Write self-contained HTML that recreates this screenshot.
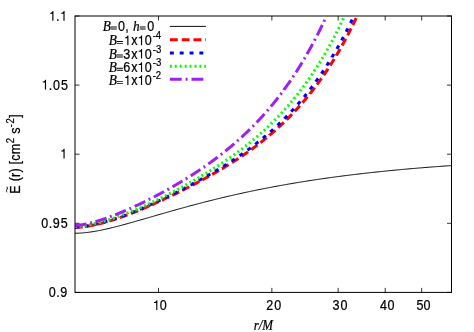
<!DOCTYPE html>
<html><head><meta charset="utf-8"><title>plot</title>
<style>html,body{margin:0;padding:0;background:#fff;}body{width:474px;height:332px;position:relative;overflow:hidden;}</style></head>
<body>
<svg width="474" height="332" viewBox="0 0 474 332" style="position:absolute;left:0;top:0">
<defs><clipPath id="c"><rect x="75.00" y="16.00" width="376.50" height="276.40"/></clipPath></defs>
<rect width="474" height="332" fill="#fff"/>
<g clip-path="url(#c)" fill="none">
<path d="M75.00,233.24 L75.94,233.23 L76.89,233.22 L77.83,233.19 L78.77,233.15 L79.72,233.11 L80.66,233.06 L81.61,232.99 L82.55,232.92 L83.49,232.84 L84.44,232.75 L85.38,232.66 L86.32,232.55 L87.27,232.44 L88.21,232.33 L89.15,232.20 L90.10,232.07 L91.04,231.94 L91.98,231.80 L92.93,231.65 L93.87,231.49 L94.82,231.34 L95.76,231.17 L96.70,231.00 L97.65,230.83 L98.59,230.65 L99.53,230.47 L100.48,230.28 L101.42,230.09 L102.36,229.89 L103.31,229.69 L104.25,229.49 L105.20,229.28 L106.14,229.07 L107.08,228.86 L108.03,228.64 L108.97,228.42 L109.91,228.20 L110.86,227.97 L111.80,227.74 L112.74,227.51 L113.69,227.28 L114.63,227.04 L115.58,226.81 L116.52,226.57 L117.46,226.32 L118.41,226.08 L119.35,225.83 L120.29,225.58 L121.24,225.33 L122.18,225.08 L123.12,224.83 L124.07,224.57 L125.01,224.32 L125.95,224.06 L126.90,223.80 L127.84,223.54 L128.79,223.28 L129.73,223.02 L130.67,222.75 L131.62,222.49 L132.56,222.23 L133.50,221.96 L134.45,221.69 L135.39,221.42 L136.33,221.16 L137.28,220.89 L138.22,220.62 L139.17,220.35 L140.11,220.08 L141.05,219.81 L142.00,219.53 L142.94,219.26 L143.88,218.99 L144.83,218.72 L145.77,218.45 L146.71,218.17 L147.66,217.90 L148.60,217.63 L149.55,217.35 L150.49,217.08 L151.43,216.81 L152.38,216.53 L153.32,216.26 L154.26,215.99 L155.21,215.71 L156.15,215.44 L157.09,215.17 L158.04,214.90 L158.98,214.62 L159.92,214.35 L160.87,214.08 L161.81,213.81 L162.76,213.54 L163.70,213.27 L164.64,213.00 L165.59,212.73 L166.53,212.46 L167.47,212.19 L168.42,211.92 L169.36,211.65 L170.30,211.38 L171.25,211.11 L172.19,210.85 L173.14,210.58 L174.08,210.31 L175.02,210.05 L175.97,209.78 L176.91,209.52 L177.85,209.26 L178.80,208.99 L179.74,208.73 L180.68,208.47 L181.63,208.21 L182.57,207.95 L183.52,207.69 L184.46,207.43 L185.40,207.17 L186.35,206.91 L187.29,206.65 L188.23,206.40 L189.18,206.14 L190.12,205.89 L191.06,205.63 L192.01,205.38 L192.95,205.13 L193.89,204.88 L194.84,204.63 L195.78,204.38 L196.73,204.13 L197.67,203.88 L198.61,203.63 L199.56,203.38 L200.50,203.14 L201.44,202.89 L202.39,202.65 L203.33,202.40 L204.27,202.16 L205.22,201.92 L206.16,201.68 L207.11,201.44 L208.05,201.20 L208.99,200.96 L209.94,200.72 L210.88,200.49 L211.82,200.25 L212.77,200.02 L213.71,199.78 L214.65,199.55 L215.60,199.32 L216.54,199.09 L217.48,198.85 L218.43,198.63 L219.37,198.40 L220.32,198.17 L221.26,197.94 L222.20,197.72 L223.15,197.49 L224.09,197.27 L225.03,197.04 L225.98,196.82 L226.92,196.60 L227.86,196.38 L228.81,196.16 L229.75,195.94 L230.70,195.72 L231.64,195.51 L232.58,195.29 L233.53,195.08 L234.47,194.86 L235.41,194.65 L236.36,194.44 L237.30,194.23 L238.24,194.02 L239.19,193.81 L240.13,193.60 L241.08,193.39 L242.02,193.18 L242.96,192.98 L243.91,192.77 L244.85,192.57 L245.79,192.37 L246.74,192.16 L247.68,191.96 L248.62,191.76 L249.57,191.56 L250.51,191.36 L251.45,191.17 L252.40,190.97 L253.34,190.77 L254.29,190.58 L255.23,190.38 L256.17,190.19 L257.12,190.00 L258.06,189.81 L259.00,189.62 L259.95,189.43 L260.89,189.24 L261.83,189.05 L262.78,188.86 L263.72,188.68 L264.67,188.49 L265.61,188.31 L266.55,188.13 L267.50,187.94 L268.44,187.76 L269.38,187.58 L270.33,187.40 L271.27,187.22 L272.21,187.04 L273.16,186.87 L274.10,186.69 L275.05,186.51 L275.99,186.34 L276.93,186.17 L277.88,185.99 L278.82,185.82 L279.76,185.65 L280.71,185.48 L281.65,185.31 L282.59,185.14 L283.54,184.97 L284.48,184.80 L285.42,184.64 L286.37,184.47 L287.31,184.31 L288.26,184.14 L289.20,183.98 L290.14,183.82 L291.09,183.66 L292.03,183.50 L292.97,183.34 L293.92,183.18 L294.86,183.02 L295.80,182.86 L296.75,182.70 L297.69,182.55 L298.64,182.39 L299.58,182.24 L300.52,182.08 L301.47,181.93 L302.41,181.78 L303.35,181.63 L304.30,181.48 L305.24,181.33 L306.18,181.18 L307.13,181.03 L308.07,180.88 L309.02,180.74 L309.96,180.59 L310.90,180.45 L311.85,180.30 L312.79,180.16 L313.73,180.01 L314.68,179.87 L315.62,179.73 L316.56,179.59 L317.51,179.45 L318.45,179.31 L319.39,179.17 L320.34,179.03 L321.28,178.90 L322.23,178.76 L323.17,178.63 L324.11,178.49 L325.06,178.36 L326.00,178.22 L326.94,178.09 L327.89,177.96 L328.83,177.83 L329.77,177.69 L330.72,177.56 L331.66,177.43 L332.61,177.31 L333.55,177.18 L334.49,177.05 L335.44,176.92 L336.38,176.80 L337.32,176.67 L338.27,176.55 L339.21,176.42 L340.15,176.30 L341.10,176.18 L342.04,176.05 L342.98,175.93 L343.93,175.81 L344.87,175.69 L345.82,175.57 L346.76,175.45 L347.70,175.34 L348.65,175.22 L349.59,175.10 L350.53,174.98 L351.48,174.87 L352.42,174.75 L353.36,174.64 L354.31,174.52 L355.25,174.41 L356.20,174.30 L357.14,174.19 L358.08,174.07 L359.03,173.96 L359.97,173.85 L360.91,173.74 L361.86,173.63 L362.80,173.53 L363.74,173.42 L364.69,173.31 L365.63,173.20 L366.58,173.10 L367.52,172.99 L368.46,172.89 L369.41,172.78 L370.35,172.68 L371.29,172.57 L372.24,172.47 L373.18,172.37 L374.12,172.27 L375.07,172.17 L376.01,172.06 L376.95,171.96 L377.90,171.86 L378.84,171.77 L379.79,171.67 L380.73,171.57 L381.67,171.47 L382.62,171.37 L383.56,171.28 L384.50,171.18 L385.45,171.09 L386.39,170.99 L387.33,170.90 L388.28,170.80 L389.22,170.71 L390.17,170.62 L391.11,170.53 L392.05,170.43 L393.00,170.34 L393.94,170.25 L394.88,170.16 L395.83,170.07 L396.77,169.98 L397.71,169.89 L398.66,169.80 L399.60,169.72 L400.55,169.63 L401.49,169.54 L402.43,169.46 L403.38,169.37 L404.32,169.28 L405.26,169.20 L406.21,169.12 L407.15,169.03 L408.09,168.95 L409.04,168.86 L409.98,168.78 L410.92,168.70 L411.87,168.62 L412.81,168.54 L413.76,168.46 L414.70,168.38 L415.64,168.30 L416.59,168.22 L417.53,168.14 L418.47,168.06 L419.42,167.98 L420.36,167.90 L421.30,167.82 L422.25,167.75 L423.19,167.67 L424.14,167.59 L425.08,167.52 L426.02,167.44 L426.97,167.37 L427.91,167.29 L428.85,167.22 L429.80,167.15 L430.74,167.07 L431.68,167.00 L432.63,166.93 L433.57,166.86 L434.52,166.78 L435.46,166.71 L436.40,166.64 L437.35,166.57 L438.29,166.50 L439.23,166.43 L440.18,166.36 L441.12,166.29 L442.06,166.23 L443.01,166.16 L443.95,166.09 L444.89,166.02 L445.84,165.96 L446.78,165.89 L447.73,165.82 L448.67,165.76 L449.61,165.69 L450.56,165.63 L451.50,165.56" stroke="#000" stroke-width="1"/>
<path d="M75.00,227.45 L75.06,227.45 L75.56,227.43 L76.07,227.41 L76.57,227.39 L77.07,227.36 L77.57,227.33 L78.08,227.30 L78.58,227.27 L79.08,227.23 L79.58,227.19 L80.08,227.15 L80.59,227.10 L81.09,227.05 L81.59,227.00 L82.09,226.95 L82.59,226.89 L82.72,226.87 M86.55,226.36 L86.61,226.35 L87.11,226.27 L87.61,226.19 L88.12,226.11 L88.62,226.02 L89.12,225.94 L89.62,225.85 L90.13,225.76 L90.63,225.67 L91.13,225.57 L91.63,225.48 L92.13,225.38 L92.64,225.28 L93.14,225.18 L93.64,225.07 L94.14,224.97 L94.16,224.96 M97.94,224.12 L97.97,224.11 L98.47,223.99 L98.97,223.87 L99.48,223.75 L99.98,223.62 L100.48,223.49 L100.98,223.36 L101.48,223.23 L101.99,223.10 L102.49,222.96 L102.99,222.83 L103.49,222.69 L104.00,222.55 L104.50,222.41 L105.00,222.27 L105.42,222.15 M109.14,221.06 L109.14,221.06 L109.64,220.91 L110.15,220.75 L110.65,220.60 L111.15,220.44 L111.65,220.29 L112.15,220.13 L112.66,219.97 L113.16,219.81 L113.66,219.65 L114.16,219.49 L114.66,219.33 L115.17,219.17 L115.67,219.00 L116.17,218.84 L116.52,218.72 M120.18,217.49 L120.19,217.49 L120.69,217.31 L121.19,217.14 L121.69,216.97 L122.20,216.79 L122.70,216.62 L123.20,216.44 L123.70,216.26 L124.20,216.08 L124.71,215.91 L125.21,215.72 L125.71,215.53 L126.21,215.35 L126.71,215.16 L127.22,214.97 L127.47,214.87 M131.03,213.50 L131.05,213.49 L131.55,213.30 L132.05,213.10 L132.55,212.90 L133.05,212.71 L133.56,212.51 L134.06,212.31 L134.56,212.11 L135.06,211.91 L135.56,211.71 L136.07,211.51 L136.57,211.31 L137.07,211.10 L137.57,210.90 L138.07,210.70 L138.22,210.64 M141.47,209.29 L141.53,209.26 L142.03,209.05 L142.53,208.84 L143.03,208.62 L143.53,208.40 L144.04,208.19 L144.54,207.97 L145.04,207.75 L145.54,207.54 L146.04,207.32 L146.55,207.10 L147.05,206.88 L147.55,206.66 L148.05,206.44 L148.56,206.22 L148.57,206.21 M151.79,204.79 L151.82,204.77 L152.32,204.55 L152.82,204.32 L153.33,204.10 L153.83,203.87 L154.33,203.65 L154.83,203.42 L155.33,203.19 L155.84,202.97 L156.34,202.74 L156.84,202.51 L157.34,202.28 L157.84,202.05 L158.35,201.82 L158.84,201.60 M162.04,200.12 L162.05,200.12 L162.55,199.88 L163.05,199.65 L163.56,199.42 L164.06,199.18 L164.56,198.95 L165.06,198.71 L165.56,198.48 L166.07,198.24 L166.57,198.00 L167.07,197.76 L167.57,197.53 L168.07,197.29 L168.58,197.05 L169.05,196.83 M172.22,195.30 L172.28,195.27 L172.78,195.03 L173.28,194.79 L173.78,194.55 L174.29,194.30 L174.79,194.06 L175.29,193.81 L175.79,193.57 L176.30,193.32 L176.80,193.07 L177.30,192.83 L177.80,192.58 L178.30,192.33 L178.81,192.08 L179.17,191.90 M182.32,190.33 L182.38,190.30 L182.89,190.05 L183.39,189.79 L183.89,189.54 L184.39,189.29 L184.89,189.03 L185.40,188.78 L185.90,188.52 L186.40,188.26 L186.90,188.01 L187.40,187.75 L187.91,187.49 L188.41,187.24 L188.91,186.98 L189.22,186.82 M192.35,185.19 L192.36,185.18 L192.86,184.92 L193.37,184.66 L193.87,184.39 L194.37,184.13 L194.87,183.86 L195.37,183.60 L195.88,183.33 L196.38,183.06 L196.88,182.80 L197.38,182.53 L197.88,182.26 L198.39,181.99 L198.89,181.72 L199.18,181.56 M202.28,179.88 L202.28,179.88 L202.78,179.61 L203.28,179.33 L203.78,179.05 L204.29,178.78 L204.79,178.50 L205.29,178.22 L205.79,177.95 L206.29,177.67 L206.80,177.40 L207.30,177.12 L207.80,176.85 L208.30,176.57 L208.81,176.29 L209.06,176.15 M212.13,174.43 L212.13,174.43 L212.63,174.15 L213.14,173.86 L213.64,173.58 L214.14,173.29 L214.64,173.01 L215.14,172.72 L215.65,172.43 L216.15,172.14 L216.65,171.85 L217.15,171.56 L217.65,171.27 L218.16,170.97 L218.66,170.68 L218.84,170.57 M222.04,168.68 L222.05,168.68 L222.55,168.38 L223.05,168.08 L223.55,167.78 L224.06,167.47 L224.56,167.17 L225.06,166.87 L225.56,166.56 L226.06,166.25 L226.57,165.95 L227.07,165.64 L227.57,165.33 L228.07,165.02 L228.57,164.71 L228.65,164.66 M231.93,162.61 L231.96,162.59 L232.47,162.27 L232.97,161.95 L233.47,161.63 L233.97,161.31 L234.47,160.99 L234.98,160.67 L235.48,160.34 L235.98,160.02 L236.48,159.69 L236.98,159.37 L237.49,159.04 L237.99,158.71 L238.44,158.41 M241.66,156.27 L241.69,156.24 L242.19,155.91 L242.70,155.56 L243.20,155.22 L243.70,154.88 L244.20,154.54 L244.70,154.19 L245.21,153.84 L245.71,153.50 L246.21,153.15 L246.71,152.80 L247.21,152.44 L247.72,152.09 L248.03,151.87 M251.18,149.62 L251.23,149.58 L251.73,149.22 L252.24,148.85 L252.74,148.48 L253.24,148.11 L253.74,147.74 L254.24,147.37 L254.75,147.00 L255.25,146.62 L255.75,146.25 L256.25,145.87 L256.75,145.49 L257.26,145.11 L257.39,145.01 M260.46,142.65 L260.46,142.65 L260.96,142.25 L261.46,141.86 L261.96,141.47 L262.47,141.07 L262.97,140.67 L263.47,140.27 L263.97,139.87 L264.47,139.46 L264.98,139.06 L265.48,138.65 L265.98,138.24 L266.48,137.83 L266.50,137.81 M269.48,135.34 L269.49,135.32 L270.00,134.90 L270.50,134.47 L271.00,134.04 L271.50,133.61 L272.01,133.18 L272.51,132.75 L273.01,132.31 L273.51,131.88 L274.01,131.44 L274.52,130.99 L275.02,130.55 L275.33,130.27 M278.21,127.69 L278.22,127.68 L278.72,127.22 L279.22,126.76 L279.72,126.29 L280.23,125.83 L280.73,125.36 L281.23,124.89 L281.73,124.42 L282.24,123.94 L282.74,123.47 L283.24,122.99 L283.74,122.51 L283.86,122.40 M286.63,119.70 L286.69,119.63 L287.19,119.14 L287.70,118.64 L288.20,118.13 L288.70,117.63 L289.20,117.12 L289.70,116.61 L290.21,116.10 L290.71,115.59 L291.21,115.07 L291.71,114.55 L292.06,114.18 M294.73,111.38 L294.79,111.31 L295.29,110.77 L295.79,110.23 L296.29,109.69 L296.80,109.14 L297.30,108.59 L297.80,108.04 L298.30,107.48 L298.80,106.92 L299.31,106.36 L299.81,105.80 L299.94,105.65 M302.49,102.74 L302.51,102.72 L303.01,102.13 L303.51,101.55 L304.01,100.96 L304.52,100.37 L305.02,99.77 L305.52,99.17 L306.02,98.57 L306.52,97.97 L307.03,97.36 L307.47,96.82 M309.91,93.81 L309.91,93.80 L310.41,93.17 L310.92,92.54 L311.42,91.90 L311.92,91.26 L312.42,90.62 L312.92,89.97 L313.43,89.32 L313.93,88.67 L314.43,88.01 L314.66,87.71 M316.98,84.61 L317.00,84.58 L317.51,83.91 L318.01,83.22 L318.51,82.53 L319.01,81.84 L319.51,81.15 L320.02,80.45 L320.52,79.75 L321.02,79.04 L321.52,78.34 M323.73,75.16 L323.78,75.09 L324.28,74.35 L324.79,73.62 L325.29,72.88 L325.79,72.13 L326.29,71.38 L326.79,70.63 L327.30,69.87 L327.80,69.11 L328.04,68.74 M330.15,65.49 L330.18,65.43 L330.69,64.65 L331.19,63.86 L331.69,63.06 L332.19,62.26 L332.69,61.46 L333.20,60.65 L333.70,59.83 L334.20,59.02 L334.25,58.93 M336.26,55.62 L336.27,55.59 L336.77,54.75 L337.28,53.90 L337.78,53.05 L338.28,52.19 L338.78,51.33 L339.28,50.46 L339.79,49.59 L340.16,48.93 M342.07,45.56 L342.11,45.49 L342.61,44.58 L343.11,43.68 L343.61,42.77 L344.12,41.85 L344.62,40.93 L345.12,40.00 L345.62,39.07 L345.78,38.77 M347.59,35.35 L347.63,35.28 L348.13,34.32 L348.64,33.35 L349.14,32.38 L349.64,31.40 L350.14,30.42 L350.64,29.43 L351.13,28.47 M352.85,25.00 L352.90,24.90 L353.41,23.88 L353.91,22.85 L354.41,21.82 L354.91,20.78 L355.41,19.73 L355.92,18.68 L356.22,18.04" stroke="#ff0000" stroke-width="3"/>
<path d="M75.00,227.15 L75.06,227.15 L75.56,227.13 L76.07,227.11 L76.57,227.08 L77.07,227.06 L77.57,227.03 L78.08,226.99 L78.58,226.95 L78.88,226.93 M84.68,226.29 L84.73,226.28 L85.23,226.21 L85.73,226.14 L86.23,226.06 L86.74,225.98 L87.24,225.90 L87.74,225.82 L88.24,225.74 L88.52,225.69 M94.24,224.57 L94.27,224.57 L94.77,224.46 L95.27,224.34 L95.77,224.23 L96.28,224.12 L96.78,224.00 L97.28,223.88 L97.78,223.76 L98.03,223.70 M103.67,222.22 L103.68,222.22 L104.18,222.08 L104.69,221.94 L105.19,221.79 L105.69,221.65 L106.19,221.50 L106.69,221.35 L107.20,221.20 L107.41,221.14 M112.97,219.41 L113.03,219.39 L113.53,219.23 L114.04,219.06 L114.54,218.90 L115.04,218.73 L115.54,218.56 L116.05,218.40 L116.55,218.23 L116.67,218.19 M122.18,216.28 L122.20,216.27 L122.70,216.10 L123.20,215.92 L123.70,215.74 L124.20,215.56 L124.71,215.37 L125.21,215.19 L125.71,215.00 L125.83,214.95 M131.26,212.84 L131.30,212.82 L131.80,212.62 L132.30,212.42 L132.80,212.22 L133.30,212.02 L133.81,211.82 L134.31,211.62 L134.81,211.41 L134.86,211.39 M139.93,209.31 L139.96,209.30 L140.46,209.08 L140.96,208.86 L141.46,208.65 L141.97,208.43 L142.47,208.21 L142.97,207.99 L143.47,207.77 L143.49,207.76 M148.50,205.55 L148.56,205.52 L149.06,205.29 L149.56,205.07 L150.06,204.84 L150.56,204.62 L151.07,204.39 L151.57,204.16 L152.04,203.95 M157.01,201.66 L157.03,201.66 L157.53,201.42 L158.03,201.19 L158.53,200.95 L159.04,200.72 L159.54,200.48 L160.04,200.25 L160.54,200.02 M165.48,197.67 L165.50,197.66 L166.00,197.42 L166.50,197.17 L167.01,196.93 L167.51,196.69 L168.01,196.45 L168.51,196.20 L168.98,195.98 M173.89,193.56 L173.91,193.55 L174.41,193.30 L174.91,193.05 L175.42,192.80 L175.92,192.55 L176.42,192.30 L176.92,192.05 L177.37,191.82 M182.25,189.34 L182.26,189.34 L182.76,189.08 L183.26,188.82 L183.76,188.56 L184.27,188.30 L184.77,188.04 L185.27,187.78 L185.70,187.56 M190.54,185.01 L190.54,185.01 L191.04,184.74 L191.55,184.47 L192.05,184.20 L192.55,183.93 L193.05,183.66 L193.55,183.39 L193.97,183.17 M198.77,180.55 L198.83,180.52 L199.33,180.24 L199.83,179.96 L200.33,179.68 L200.83,179.40 L201.34,179.12 L201.84,178.84 L202.17,178.66 M206.94,175.97 L206.99,175.94 L207.49,175.66 L207.99,175.37 L208.49,175.09 L208.99,174.80 L209.50,174.51 L210.00,174.23 L210.31,174.05 M215.04,171.29 L215.08,171.27 L215.58,170.97 L216.09,170.67 L216.59,170.38 L217.09,170.08 L217.59,169.78 L218.09,169.48 L218.38,169.30 M223.28,166.31 L223.30,166.30 L223.81,165.99 L224.31,165.68 L224.81,165.36 L225.31,165.05 L225.81,164.73 L226.32,164.42 L226.58,164.25 M231.49,161.10 L231.52,161.08 L232.03,160.75 L232.53,160.42 L233.03,160.10 L233.53,159.77 L234.04,159.44 L234.54,159.10 L234.74,158.97 M239.57,155.71 L239.62,155.68 L240.12,155.33 L240.62,154.99 L241.13,154.64 L241.63,154.29 L242.13,153.94 L242.63,153.59 L242.77,153.49 M247.51,150.10 L247.53,150.09 L248.03,149.72 L248.53,149.36 L249.03,148.99 L249.54,148.62 L250.04,148.24 L250.54,147.87 L250.64,147.80 M255.29,144.27 L255.31,144.25 L255.81,143.86 L256.31,143.47 L256.82,143.08 L257.32,142.68 L257.82,142.29 L258.32,141.89 L258.35,141.87 M262.88,138.20 L262.90,138.19 L263.41,137.77 L263.91,137.35 L264.41,136.94 L264.91,136.52 L265.42,136.09 L265.87,135.71 M270.28,131.91 L270.31,131.88 L270.81,131.44 L271.31,130.99 L271.82,130.55 L272.32,130.10 L272.82,129.65 L273.19,129.32 M277.48,125.37 L277.53,125.32 L278.03,124.85 L278.53,124.38 L279.03,123.90 L279.54,123.42 L280.04,122.94 L280.30,122.69 M284.46,118.60 L284.49,118.56 L285.00,118.06 L285.50,117.55 L286.00,117.04 L286.50,116.53 L287.00,116.02 L287.18,115.83 M291.21,111.61 L291.21,111.61 L291.71,111.07 L292.21,110.52 L292.72,109.98 L293.22,109.43 L293.72,108.88 L293.84,108.75 M297.72,104.40 L297.74,104.38 L298.24,103.81 L298.74,103.23 L299.24,102.65 L299.75,102.06 L300.25,101.48 L300.26,101.46 M304.00,96.98 L304.01,96.97 L304.52,96.36 L305.02,95.74 L305.52,95.12 L306.02,94.50 L306.45,93.96 M310.05,89.37 L310.10,89.30 L310.60,88.65 L311.10,87.99 L311.61,87.33 L312.11,86.66 L312.40,86.28 M315.86,81.58 L315.87,81.56 L316.38,80.86 L316.88,80.16 L317.38,79.46 L317.88,78.75 L318.12,78.42 M321.44,73.62 L321.46,73.59 L321.96,72.85 L322.46,72.11 L322.97,71.36 L323.47,70.61 L323.61,70.39 M326.80,65.51 L326.86,65.42 L327.36,64.63 L327.86,63.84 L328.36,63.04 L328.87,62.25 L328.88,62.23 M331.94,57.26 L331.94,57.25 L332.44,56.42 L332.95,55.58 L333.45,54.74 L333.93,53.92 M336.87,48.88 L336.90,48.82 L337.40,47.94 L337.90,47.06 L338.41,46.17 L338.78,45.50 M341.60,40.39 L341.61,40.37 L342.11,39.44 L342.61,38.51 L343.11,37.57 L343.43,36.97 M346.13,31.80 L346.19,31.69 L346.69,30.71 L347.19,29.73 L347.69,28.74 L347.90,28.33 M350.49,23.11 L350.52,23.06 L351.02,22.03 L351.52,20.99 L352.02,19.95 L352.19,19.61" stroke="#0000ff" stroke-width="3"/>
<path d="M75.00,226.53 L75.06,226.53 L75.56,226.51 L76.07,226.48 L76.57,226.45 L76.95,226.43 M79.86,226.19 L79.90,226.19 L80.40,226.14 L80.90,226.08 L81.40,226.03 L81.80,225.98 M84.70,225.59 L84.73,225.59 L85.23,225.51 L85.73,225.43 L86.23,225.35 L86.63,225.29 M89.51,224.77 L89.56,224.76 L90.06,224.67 L90.56,224.57 L91.07,224.47 L91.42,224.39 M94.28,223.78 L94.33,223.76 L94.83,223.65 L95.33,223.53 L95.84,223.41 L96.18,223.33 M99.02,222.63 L99.04,222.62 L99.54,222.49 L100.04,222.36 L100.54,222.22 L100.90,222.12 M103.72,221.32 L103.74,221.32 L104.25,221.17 L104.75,221.02 L105.25,220.87 L105.59,220.77 M108.38,219.90 L108.39,219.90 L108.89,219.74 L109.39,219.58 L109.89,219.42 L110.24,219.31 M113.02,218.39 L113.03,218.39 L113.53,218.22 L114.04,218.05 L114.54,217.88 L114.87,217.77 M117.63,216.81 L117.68,216.79 L118.18,216.61 L118.68,216.43 L119.18,216.25 L119.47,216.15 M122.21,215.15 L122.26,215.13 L122.76,214.94 L123.26,214.76 L123.76,214.57 L124.04,214.47 M126.77,213.40 L126.78,213.40 L127.28,213.20 L127.78,213.00 L128.28,212.79 L128.58,212.68 M131.28,211.57 L131.30,211.56 L131.80,211.36 L132.30,211.15 L132.80,210.94 L133.09,210.82 M135.59,209.77 L135.63,209.75 L136.13,209.54 L136.63,209.33 L137.13,209.11 L137.38,209.00 M139.85,207.94 L139.89,207.92 L140.40,207.70 L140.90,207.47 L141.40,207.24 L141.63,207.14 M144.08,206.03 L144.10,206.02 L144.60,205.79 L145.10,205.56 L145.61,205.33 L145.85,205.21 M148.29,204.08 L148.30,204.07 L148.81,203.84 L149.31,203.60 L149.81,203.37 L150.05,203.25 M152.48,202.10 L152.51,202.09 L153.01,201.85 L153.51,201.61 L154.02,201.37 L154.24,201.26 M156.66,200.09 L156.71,200.07 L157.22,199.82 L157.72,199.58 L158.22,199.33 L158.41,199.24 M160.83,198.05 L160.86,198.04 L161.36,197.79 L161.86,197.54 L162.36,197.29 L162.57,197.19 M164.98,195.98 L165.00,195.97 L165.50,195.72 L166.00,195.46 L166.50,195.21 L166.72,195.10 M169.11,193.88 L169.14,193.87 L169.64,193.61 L170.14,193.35 L170.65,193.09 L170.85,192.99 M173.23,191.75 L173.28,191.72 L173.78,191.46 L174.29,191.20 L174.79,190.93 L174.96,190.84 M177.33,189.59 L177.36,189.57 L177.86,189.30 L178.37,189.04 L178.87,188.77 L179.05,188.67 M181.42,187.39 L181.44,187.38 L181.94,187.11 L182.45,186.84 L182.95,186.56 L183.13,186.46 M185.49,185.17 L185.52,185.15 L186.02,184.87 L186.53,184.59 L187.03,184.32 L187.20,184.22 M189.54,182.91 L189.60,182.88 L190.10,182.59 L190.60,182.31 L191.11,182.02 L191.24,181.95 M193.57,180.62 L193.62,180.59 L194.12,180.30 L194.62,180.01 L195.12,179.72 L195.26,179.64 M197.59,178.29 L197.63,178.26 L198.14,177.97 L198.64,177.67 L199.14,177.38 L199.27,177.30 M201.58,175.93 L201.59,175.92 L202.09,175.62 L202.59,175.32 L203.09,175.02 L203.25,174.92 M205.55,173.53 L205.60,173.50 L206.11,173.19 L206.61,172.89 L207.11,172.59 L207.22,172.52 M209.51,171.12 L209.56,171.09 L210.06,170.78 L210.56,170.47 L211.06,170.16 L211.17,170.10 M213.45,168.67 L213.45,168.67 L213.95,168.35 L214.45,168.04 L214.96,167.72 L215.10,167.63 M217.44,166.13 L217.47,166.11 L217.97,165.78 L218.47,165.46 L218.97,165.13 L219.07,165.07 M221.52,163.46 L221.55,163.44 L222.05,163.11 L222.55,162.77 L223.05,162.44 L223.14,162.38 M225.57,160.74 L225.63,160.70 L226.13,160.36 L226.63,160.01 L227.13,159.67 L227.18,159.64 M229.58,157.97 L229.64,157.93 L230.14,157.58 L230.65,157.22 L231.15,156.87 L231.18,156.85 M233.56,155.16 L233.60,155.13 L234.10,154.77 L234.60,154.41 L235.10,154.05 L235.15,154.02 M237.51,152.29 L237.55,152.26 L238.05,151.89 L238.55,151.52 L239.06,151.14 L239.07,151.13 M241.41,149.37 L241.44,149.35 L241.94,148.97 L242.44,148.58 L242.95,148.20 L242.96,148.19 M245.27,146.39 L245.33,146.35 L245.83,145.95 L246.34,145.56 L246.81,145.19 M249.09,143.36 L249.10,143.35 L249.60,142.95 L250.10,142.54 L250.60,142.13 L250.60,142.13 M252.86,140.27 L252.86,140.27 L253.37,139.85 L253.87,139.43 L254.36,139.02 M256.58,137.12 L256.63,137.08 L257.13,136.65 L257.63,136.21 L258.06,135.84 M260.26,133.91 L260.27,133.90 L260.77,133.45 L261.27,133.01 L261.71,132.61 M263.88,130.65 L263.91,130.62 L264.41,130.16 L264.91,129.69 L265.31,129.32 M267.45,127.32 L267.49,127.28 L267.99,126.81 L268.49,126.33 L268.86,125.98 M270.96,123.94 L271.00,123.90 L271.50,123.41 L272.01,122.92 L272.35,122.58 M274.42,120.51 L274.45,120.47 L274.95,119.96 L275.46,119.45 L275.79,119.12 M277.82,117.01 L277.84,116.99 L278.34,116.47 L278.85,115.94 L279.17,115.60 M281.17,113.47 L281.17,113.47 L281.67,112.92 L282.17,112.38 L282.49,112.03 M284.45,109.87 L284.49,109.82 L285.00,109.26 L285.50,108.70 L285.75,108.41 M287.68,106.21 L287.70,106.20 L288.20,105.62 L288.70,105.04 L288.96,104.74 M290.85,102.51 L290.90,102.46 L291.40,101.86 L291.90,101.26 L292.11,101.01 M293.97,98.76 L293.97,98.75 L294.47,98.13 L294.98,97.51 L295.20,97.24 M297.02,94.96 L297.05,94.92 L297.55,94.29 L298.05,93.65 L298.23,93.42 M300.02,91.11 L300.06,91.05 L300.56,90.39 L301.06,89.73 L301.20,89.56 M302.95,87.22 L303.01,87.14 L303.51,86.46 L304.01,85.78 L304.11,85.65 M305.83,83.28 L305.83,83.28 L306.34,82.58 L306.84,81.88 L306.97,81.69 M308.65,79.30 L308.66,79.30 L309.16,78.58 L309.66,77.85 L309.77,77.70 M311.42,75.29 L311.42,75.29 L311.92,74.54 L312.42,73.80 L312.51,73.67 M314.13,71.23 L314.18,71.15 L314.68,70.39 L315.18,69.62 L315.20,69.60 M316.78,67.14 L316.82,67.09 L317.32,66.30 L317.82,65.51 L317.83,65.50 M319.38,63.02 L319.39,63.01 L319.89,62.20 L320.39,61.38 L320.41,61.36 M321.93,58.86 L321.96,58.81 L322.46,57.97 L322.93,57.19 M324.42,54.67 L324.47,54.59 L324.97,53.73 L325.41,52.99 M326.87,50.45 L326.92,50.36 L327.42,49.48 L327.83,48.76 M329.26,46.20 L329.31,46.13 L329.81,45.22 L330.21,44.50 M331.61,41.93 L331.63,41.90 L332.13,40.97 L332.53,40.21 M333.91,37.63 L333.95,37.55 L334.45,36.59 L334.81,35.90 M336.16,33.30 L336.21,33.21 L336.71,32.23 L337.05,31.57 M338.36,28.96 L338.41,28.87 L338.91,27.87 L339.23,27.21 M340.53,24.59 L340.54,24.56 L341.04,23.53 L341.38,22.83 M342.65,20.19 L342.67,20.14 L343.18,19.08 L343.48,18.43" stroke="#00ff00" stroke-width="3"/>
<path d="M75.00,225.64 L75.06,225.64 L75.56,225.59 L76.07,225.55 L76.57,225.49 L77.07,225.44 L77.57,225.38 L78.08,225.32 L78.58,225.26 L79.08,225.19 L79.58,225.12 L80.08,225.05 L80.59,224.97 L81.09,224.90 L81.59,224.81 L82.09,224.73 L82.59,224.64 L83.10,224.56 L83.60,224.46 L84.10,224.37 L84.60,224.27 L85.10,224.17 L85.61,224.07 L86.11,223.97 L86.46,223.89 M90.20,223.04 L90.25,223.03 L90.75,222.90 L91.25,222.77 L91.76,222.65 L92.07,222.56 M95.53,221.62 L95.59,221.60 L96.09,221.46 L96.59,221.31 L97.09,221.16 L97.59,221.01 L98.10,220.86 L98.60,220.71 L99.10,220.56 L99.60,220.40 L100.10,220.24 L100.61,220.08 L101.11,219.92 L101.61,219.76 L102.11,219.59 L102.61,219.43 L103.12,219.26 L103.62,219.09 L104.12,218.92 L104.62,218.75 L105.13,218.58 L105.63,218.40 L106.13,218.23 L106.58,218.07 M109.96,216.85 L109.96,216.85 L110.46,216.66 L110.96,216.47 L111.46,216.28 L111.77,216.17 M115.20,214.84 L115.23,214.83 L115.73,214.63 L116.23,214.43 L116.74,214.23 L117.24,214.03 L117.74,213.83 L118.24,213.62 L118.74,213.42 L119.25,213.21 L119.75,213.01 L120.25,212.80 L120.75,212.59 L121.25,212.38 L121.76,212.17 L122.26,211.96 L122.76,211.75 L123.26,211.53 L123.76,211.32 L124.27,211.10 L124.77,210.89 L125.27,210.67 L125.77,210.45 L125.91,210.39 M129.45,208.83 L129.48,208.82 L129.98,208.59 L130.48,208.36 L130.98,208.14 L131.21,208.03 M134.73,206.42 L134.75,206.41 L135.25,206.18 L135.75,205.94 L136.25,205.71 L136.76,205.47 L137.26,205.23 L137.76,205.00 L138.26,204.76 L138.76,204.52 L139.27,204.28 L139.77,204.04 L140.27,203.80 L140.77,203.56 L141.28,203.31 L141.78,203.07 L142.28,202.82 L142.78,202.58 L143.28,202.33 L143.79,202.09 L144.29,201.84 L144.79,201.59 L145.19,201.40 M148.64,199.67 L148.68,199.65 L149.18,199.39 L149.68,199.14 L150.19,198.88 L150.37,198.79 M153.81,197.02 L153.83,197.01 L154.33,196.75 L154.83,196.49 L155.33,196.22 L155.84,195.96 L156.34,195.70 L156.84,195.43 L157.34,195.16 L157.84,194.90 L158.35,194.63 L158.85,194.36 L159.35,194.09 L159.85,193.83 L160.35,193.56 L160.86,193.29 L161.36,193.01 L161.86,192.74 L162.36,192.47 L162.86,192.20 L163.37,191.92 L163.87,191.65 L164.04,191.55 M167.42,189.68 L167.45,189.67 L167.95,189.38 L168.45,189.10 L168.95,188.82 L169.11,188.73 M172.47,186.82 L172.53,186.79 L173.03,186.50 L173.53,186.21 L174.04,185.92 L174.54,185.63 L175.04,185.33 L175.54,185.04 L176.04,184.75 L176.55,184.45 L177.05,184.16 L177.55,183.86 L178.05,183.57 L178.55,183.27 L179.06,182.97 L179.56,182.67 L180.06,182.37 L180.56,182.07 L181.07,181.77 L181.57,181.47 L182.07,181.16 L182.47,180.92 M185.76,178.90 L185.77,178.90 L186.27,178.59 L186.78,178.28 L187.28,177.96 L187.41,177.88 M190.68,175.82 L190.73,175.79 L191.23,175.47 L191.73,175.15 L192.24,174.83 L192.74,174.51 L193.24,174.18 L193.74,173.86 L194.24,173.53 L194.75,173.20 L195.25,172.88 L195.75,172.55 L196.25,172.22 L196.76,171.89 L197.26,171.56 L197.76,171.22 L198.26,170.89 L198.76,170.55 L199.27,170.22 L199.77,169.88 L200.27,169.54 L200.39,169.47 M203.58,167.29 L203.60,167.28 L204.10,166.93 L204.60,166.58 L205.10,166.23 L205.17,166.19 M208.33,163.96 L208.37,163.94 L208.87,163.58 L209.37,163.22 L209.87,162.86 L210.37,162.50 L210.88,162.14 L211.38,161.77 L211.88,161.41 L212.38,161.04 L212.88,160.67 L213.39,160.30 L213.89,159.93 L214.39,159.56 L214.89,159.19 L215.40,158.82 L215.90,158.44 L216.40,158.06 L216.90,157.69 L217.40,157.31 L217.68,157.09 M220.75,154.74 L220.79,154.71 L221.29,154.32 L221.80,153.92 L222.28,153.55 M225.31,151.14 L225.31,151.14 L225.81,150.73 L226.32,150.33 L226.82,149.92 L227.32,149.51 L227.82,149.10 L228.32,148.69 L228.83,148.28 L229.33,147.86 L229.83,147.44 L230.33,147.03 L230.83,146.61 L231.34,146.18 L231.84,145.76 L232.34,145.33 L232.84,144.91 L233.34,144.48 L233.85,144.05 L234.23,143.72 M237.14,141.18 L237.17,141.15 L237.68,140.71 L238.18,140.26 L238.59,139.90 M241.46,137.30 L241.50,137.26 L242.01,136.80 L242.51,136.34 L243.01,135.87 L243.51,135.41 L244.01,134.94 L244.52,134.47 L245.02,133.99 L245.52,133.52 L246.02,133.04 L246.52,132.56 L247.03,132.08 L247.53,131.60 L248.03,131.12 L248.53,130.63 L249.03,130.14 L249.54,129.65 L249.87,129.32 M252.61,126.59 L252.67,126.53 L253.18,126.02 L253.68,125.51 L253.97,125.21 M256.66,122.43 L256.69,122.40 L257.19,121.87 L257.70,121.34 L258.20,120.81 L258.70,120.28 L259.20,119.74 L259.70,119.20 L260.21,118.66 L260.71,118.11 L261.21,117.57 L261.71,117.02 L262.21,116.47 L262.72,115.91 L263.22,115.35 L263.72,114.79 L264.22,114.23 L264.52,113.90 M267.07,110.99 L267.11,110.94 L267.61,110.36 L268.11,109.78 L268.33,109.52 M270.83,106.57 L270.88,106.51 L271.38,105.91 L271.88,105.31 L272.38,104.70 L272.88,104.08 L273.39,103.47 L273.89,102.85 L274.39,102.23 L274.89,101.61 L275.39,100.98 L275.90,100.35 L276.40,99.71 L276.90,99.08 L277.40,98.44 L277.90,97.79 L278.11,97.54 M280.46,94.47 L280.48,94.45 L280.98,93.78 L281.48,93.11 L281.63,92.92 M283.93,89.82 L283.93,89.81 L284.43,89.13 L284.93,88.43 L285.44,87.74 L285.94,87.04 L286.44,86.34 L286.94,85.63 L287.44,84.92 L287.95,84.21 L288.45,83.49 L288.95,82.77 L289.45,82.05 L289.95,81.32 L290.46,80.59 L290.63,80.34 M292.79,77.14 L292.84,77.06 L293.34,76.30 L293.85,75.55 L293.86,75.53 M295.97,72.29 L295.98,72.28 L296.48,71.50 L296.98,70.71 L297.49,69.92 L297.99,69.13 L298.49,68.33 L298.99,67.53 L299.49,66.72 L300.00,65.91 L300.50,65.10 L301.00,64.28 L301.50,63.46 L302.00,62.63 L302.12,62.44 M304.10,59.12 L304.14,59.06 L304.64,58.21 L305.08,57.46 M307.02,54.11 L307.03,54.09 L307.53,53.21 L308.03,52.33 L308.53,51.44 L309.03,50.55 L309.54,49.65 L310.04,48.74 L310.54,47.83 L311.04,46.92 L311.54,46.00 L312.05,45.07 L312.55,44.14 L312.65,43.96 M314.46,40.55 L314.49,40.49 L315.00,39.54 L315.36,38.84 M317.14,35.40 L317.19,35.29 L317.69,34.31 L318.20,33.32 L318.70,32.32 L319.20,31.32 L319.70,30.31 L320.21,29.30 L320.71,28.28 L321.21,27.25 L321.71,26.22 L322.21,25.19 L322.30,25.01 M323.97,21.52 L323.97,21.51 L324.47,20.45 L324.79,19.77" stroke="#a020f0" stroke-width="3"/>
</g>
<path d="M75.00,292.40h4.5 M451.50,292.40h-4.5 M75.00,223.30h4.5 M451.50,223.30h-4.5 M75.00,154.20h4.5 M451.50,154.20h-4.5 M75.00,85.10h4.5 M451.50,85.10h-4.5 M75.00,16.00h4.5 M451.50,16.00h-4.5 M158.53,292.40v-4.5 M158.53,16.00v4.5 M271.86,292.40v-4.5 M271.86,16.00v4.5 M338.16,292.40v-4.5 M338.16,16.00v4.5 M385.20,292.40v-4.5 M385.20,16.00v4.5 M421.69,292.40v-4.5 M421.69,16.00v4.5" stroke="#000" stroke-width="0.8" fill="none"/>
<rect x="75.00" y="16.00" width="376.50" height="276.40" fill="none" stroke="#000" stroke-width="1"/>
<path d="M169.9,26.4H205.9" stroke="#000" stroke-width="0.95"/>
<path d="M169.9,39.8H205.9" stroke="#ff0000" stroke-width="3" stroke-dasharray="7.86 3.93"/>
<path d="M169.9,53.0H205.9" stroke="#0000ff" stroke-width="3" stroke-dasharray="3.93 5.9"/>
<path d="M169.9,66.25H205.9" stroke="#00ff00" stroke-width="3" stroke-dasharray="1.965 2.95"/>
<path d="M169.9,79.3H205.9" stroke="#a020f0" stroke-width="3" stroke-dasharray="11.8 3.93 1.965 3.93"/>
<g style="font-family:'Liberation Sans',sans-serif;font-size:13.8px;opacity:0.999" fill="#000" stroke="#000" stroke-width="0.25" stroke-linejoin="round">
<path d="M271,0 L271,505 L101,505 L101,565 C200,575 270,612 298,703 L359,703 L359,0 Z" transform="translate(48.70,20.70) scale(0.01320,-0.01380)"/>
<text transform="translate(56.05,20.70) scale(0.91,1)">.</text>
<path d="M271,0 L271,505 L101,505 L101,565 C200,575 270,612 298,703 L359,703 L359,0 Z" transform="translate(59.85,20.70) scale(0.01320,-0.01380)"/>
<path d="M271,0 L271,505 L101,505 L101,565 C200,575 270,612 298,703 L359,703 L359,0 Z" transform="translate(41.33,89.50) scale(0.01320,-0.01380)"/>
<text transform="translate(48.85,89.50) scale(0.91,1)">.</text>
<text transform="translate(52.91,89.50) scale(0.91,1)">0</text>
<text transform="translate(60.90,89.50) scale(0.91,1)">5</text>
<path d="M271,0 L271,505 L101,505 L101,565 C200,575 270,612 298,703 L359,703 L359,0 Z" transform="translate(59.90,158.55) scale(0.01320,-0.01380)"/>
<text transform="translate(41.21,228.20) scale(0.91,1)">0</text>
<text transform="translate(48.85,228.20) scale(0.91,1)">.</text>
<text transform="translate(52.81,228.20) scale(0.91,1)">9</text>
<text transform="translate(60.70,228.20) scale(0.91,1)">5</text>
<text transform="translate(48.71,297.40) scale(0.91,1)">0</text>
<text transform="translate(56.25,297.40) scale(0.91,1)">.</text>
<text transform="translate(60.21,297.40) scale(0.91,1)">9</text>
<path d="M271,0 L271,505 L101,505 L101,565 C200,575 270,612 298,703 L359,703 L359,0 Z" transform="translate(152.63,309.90) scale(0.01320,-0.01380)"/>
<text transform="translate(159.71,309.90) scale(0.91,1)">0</text>
<text transform="translate(266.37,309.90) scale(0.91,1)">2</text>
<text transform="translate(274.31,309.90) scale(0.91,1)">0</text>
<text transform="translate(332.42,309.90) scale(0.91,1)">3</text>
<text transform="translate(340.51,309.90) scale(0.91,1)">0</text>
<text transform="translate(380.11,309.90) scale(0.91,1)">4</text>
<text transform="translate(387.51,309.90) scale(0.91,1)">0</text>
<text transform="translate(416.40,309.90) scale(0.91,1)">5</text>
<text transform="translate(423.61,309.90) scale(0.91,1)">0</text>
<text transform="translate(263.3,329.8) scale(0.94,1)" text-anchor="middle" style="font-family:'Liberation Serif',serif;font-style:italic;font-size:13.7px">r/M</text>
<text transform="translate(102.68,30.60) scale(0.97,1)" style="font-family:'Liberation Serif',serif;font-style:italic;font-size:13.7px">B</text>
<path d="M110.90,26.50h5.9v0.9h-5.9z M110.90,28.55h5.9v0.9h-5.9z" stroke="none"/>
<text transform="translate(117.96,30.60) scale(0.91,1)">0</text>
<text transform="translate(125.37,30.60) scale(0.91,1)">,</text>
<text transform="translate(132.92,30.60) scale(0.97,1)" style="font-family:'Liberation Serif',serif;font-style:italic;font-size:13.7px">h</text>
<path d="M139.70,26.50h5.9v0.9h-5.9z M139.70,28.55h5.9v0.9h-5.9z" stroke="none"/>
<text transform="translate(147.21,30.60) scale(0.91,1)">0</text>
<text transform="translate(108.78,45.20) scale(0.97,1)" style="font-family:'Liberation Serif',serif;font-style:italic;font-size:13.7px">B</text>
<path d="M117.00,41.10h5.9v0.9h-5.9z M117.00,43.15h5.9v0.9h-5.9z" stroke="none"/>
<path d="M271,0 L271,505 L101,505 L101,565 C200,575 270,612 298,703 L359,703 L359,0 Z" transform="translate(123.70,45.20) scale(0.01320,-0.01380)"/>
<text transform="translate(131.26,45.20) scale(0.91,1)">x</text>
<path d="M271,0 L271,505 L101,505 L101,565 C200,575 270,612 298,703 L359,703 L359,0 Z" transform="translate(137.38,45.20) scale(0.01320,-0.01380)"/>
<text transform="translate(144.66,45.20) scale(0.91,1)">0</text>
<text transform="translate(152.73,39.20) scale(0.9,1)" font-size="10.6">-</text>
<text transform="translate(155.68,39.20) scale(0.9,1)" font-size="10.6">4</text>
<text transform="translate(108.78,58.60) scale(0.97,1)" style="font-family:'Liberation Serif',serif;font-style:italic;font-size:13.7px">B</text>
<path d="M117.00,54.50h5.9v0.9h-5.9z M117.00,56.55h5.9v0.9h-5.9z" stroke="none"/>
<text transform="translate(123.32,58.60) scale(0.91,1)">3</text>
<text transform="translate(131.26,58.60) scale(0.91,1)">x</text>
<path d="M271,0 L271,505 L101,505 L101,565 C200,575 270,612 298,703 L359,703 L359,0 Z" transform="translate(137.38,58.60) scale(0.01320,-0.01380)"/>
<text transform="translate(144.66,58.60) scale(0.91,1)">0</text>
<text transform="translate(152.73,52.60) scale(0.9,1)" font-size="10.6">-</text>
<text transform="translate(155.94,52.60) scale(0.9,1)" font-size="10.6">3</text>
<text transform="translate(108.78,71.90) scale(0.97,1)" style="font-family:'Liberation Serif',serif;font-style:italic;font-size:13.7px">B</text>
<path d="M117.00,67.80h5.9v0.9h-5.9z M117.00,69.85h5.9v0.9h-5.9z" stroke="none"/>
<text transform="translate(123.16,71.90) scale(0.91,1)">6</text>
<text transform="translate(131.26,71.90) scale(0.91,1)">x</text>
<path d="M271,0 L271,505 L101,505 L101,565 C200,575 270,612 298,703 L359,703 L359,0 Z" transform="translate(137.38,71.90) scale(0.01320,-0.01380)"/>
<text transform="translate(144.66,71.90) scale(0.91,1)">0</text>
<text transform="translate(152.73,65.90) scale(0.9,1)" font-size="10.6">-</text>
<text transform="translate(155.94,65.90) scale(0.9,1)" font-size="10.6">3</text>
<text transform="translate(108.78,85.00) scale(0.97,1)" style="font-family:'Liberation Serif',serif;font-style:italic;font-size:13.7px">B</text>
<path d="M117.00,80.90h5.9v0.9h-5.9z M117.00,82.95h5.9v0.9h-5.9z" stroke="none"/>
<path d="M271,0 L271,505 L101,505 L101,565 C200,575 270,612 298,703 L359,703 L359,0 Z" transform="translate(123.70,85.00) scale(0.01320,-0.01380)"/>
<text transform="translate(131.26,85.00) scale(0.91,1)">x</text>
<path d="M271,0 L271,505 L101,505 L101,565 C200,575 270,612 298,703 L359,703 L359,0 Z" transform="translate(137.38,85.00) scale(0.01320,-0.01380)"/>
<text transform="translate(144.66,85.00) scale(0.91,1)">0</text>
<text transform="translate(152.73,79.00) scale(0.9,1)" font-size="10.6">-</text>
<text transform="translate(155.82,79.00) scale(0.9,1)" font-size="10.6">2</text>
<g transform="translate(19.9,193.90) rotate(-90)">
<text transform="translate(0.20,0) scale(0.91,1)">E</text>
<text transform="translate(12.55,0) scale(0.91,1)">(</text>
<text transform="translate(16.93,0) scale(0.91,1)">r</text>
<text transform="translate(21.32,0) scale(0.91,1)">)</text>
<text transform="translate(29.34,0) scale(0.91,1)">[</text>
<text transform="translate(33.07,0) scale(0.91,1)">c</text>
<text transform="translate(39.76,0) scale(0.91,1)">m</text>
<text transform="translate(50.75,-6.0) scale(0.9,1)" font-size="10.6">2</text>
<text transform="translate(60.15,0) scale(0.91,1)">s</text>
<text transform="translate(66.74,-6.0) scale(0.9,1)" font-size="10.6">-</text>
<text transform="translate(70.36,-6.0) scale(0.9,1)" font-size="10.6">2</text>
<text transform="translate(76.03,0) scale(0.91,1)">]</text>
</g>
<text transform="translate(11.25,189.5) rotate(-90)" text-anchor="middle" font-size="11" stroke="none">~</text>
</g>
</svg>
</body></html>
